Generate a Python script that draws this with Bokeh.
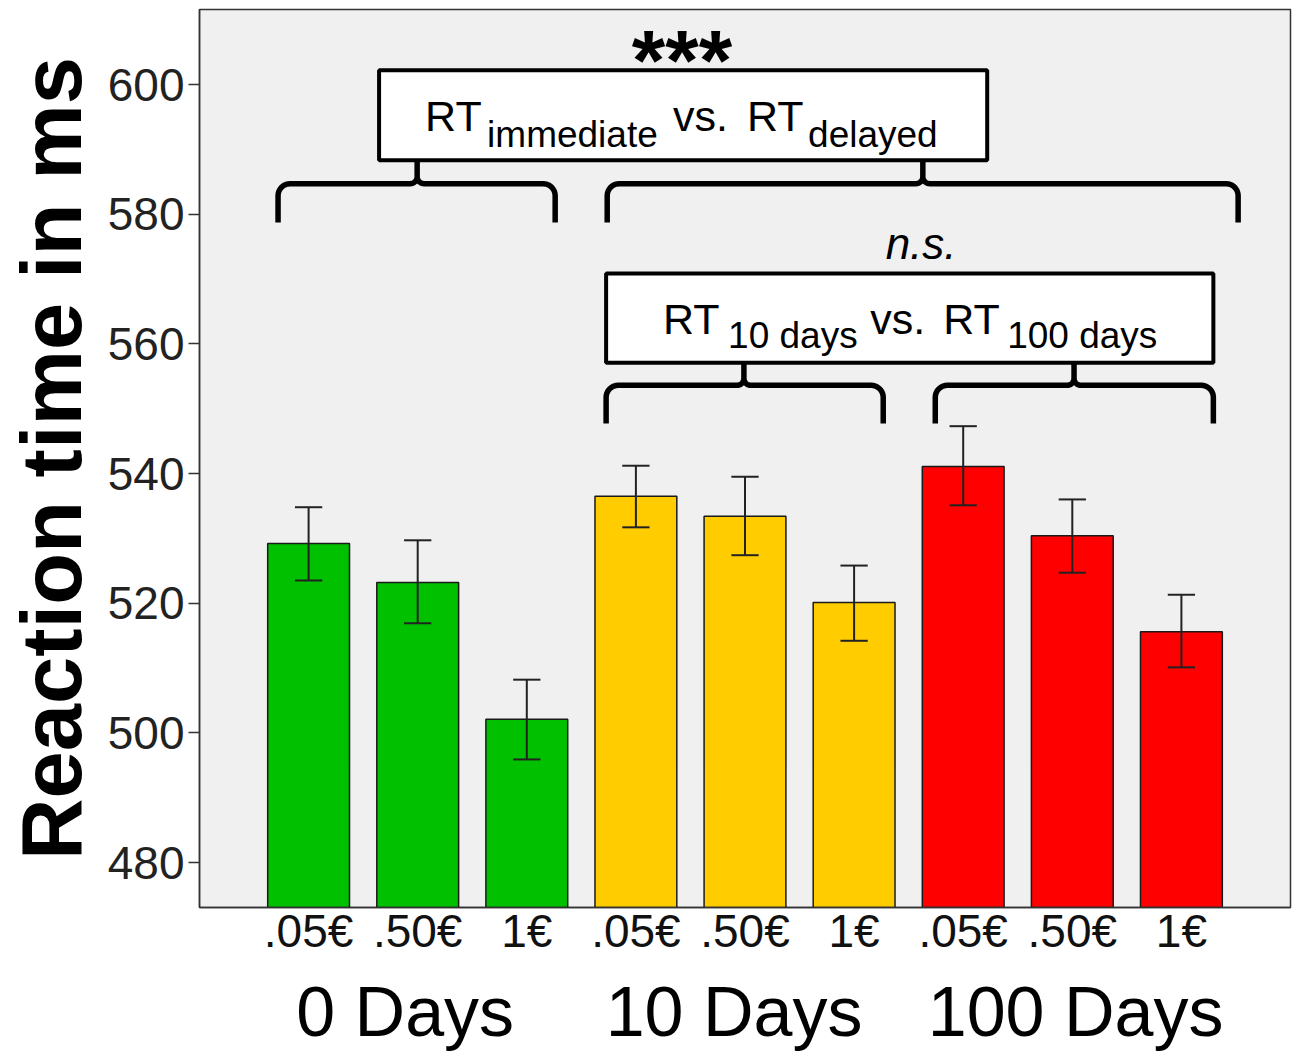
import numpy as np
from bokeh.plotting import figure
from bokeh.models import Range1d, LinearAxis, FixedTicker, ColumnDataSource
from bokeh.embed import file_html
from bokeh.resources import INLINE
from bokeh.core.properties import value

# ---------------- data ----------------
groups = ["0 Days", "10 Days", "100 Days"]
amounts = [".05€", ".50€", "1€"]
group_colors = ["#00C000", "#FFCC00", "#FF0000"]
means = [529.2, 523.2, 502.1, 536.5, 533.4, 520.1, 541.1, 530.4, 515.6]
err_upper = [534.8, 529.7, 508.2, 541.2, 539.5, 525.8, 547.3, 536.0, 521.3]
err_lower = [523.5, 516.9, 495.9, 531.7, 527.4, 514.2, 535.1, 524.7, 510.1]
y_ticks = [480, 500, 520, 540, 560, 580, 600]
y_label = "Reaction time in ms"

FONT = "Liberation Sans"

xs = list(range(len(means)))
colors = [group_colors[i // 3] for i in xs]
bar_w = 0.75
cap_half = 0.125

src = ColumnDataSource(dict(
    x=xs, top=means, color=colors, up=err_upper, lo=err_lower,
    cl=[x - cap_half for x in xs], cr=[x + cap_half for x in xs],
))

p = figure(frame_width=1091, frame_height=898,
           x_range=Range1d(-1.0, 9.0), y_range=Range1d(473.06, 611.57),
           output_backend="svg", toolbar_location=None,
           min_border_left=199, min_border_right=2, min_border_top=9,
           min_border_bottom=0,
           background_fill_color="#F0F0F0", border_fill_color="white",
           outline_line_color="#333333", outline_line_width=1.5)
p.grid.visible = False

# bars
p.vbar(x="x", width=bar_w, top="top", bottom=470, source=src,
       fill_color="color", line_color="#1a1a1a", line_width=1.5)
# error bars
p.segment(x0="x", y0="lo", x1="x", y1="up", source=src, line_color="#222222", line_width=2)
p.segment(x0="cl", y0="up", x1="cr", y1="up", source=src, line_color="#222222", line_width=2)
p.segment(x0="cl", y0="lo", x1="cr", y1="lo", source=src, line_color="#222222", line_width=2)

# ---------------- axes ----------------
px_x = 10.0 / 1091
px_y = (611.57 - 473.06) / 898

xa = p.xaxis[0]
xa.ticker = FixedTicker(ticks=xs)
xa.major_label_overrides = {i: amounts[i % 3] for i in xs}
xa.major_tick_line_color = None
xa.minor_tick_line_color = None
xa.axis_line_color = "#333333"
xa.axis_line_width = 1.5
xa.major_label_text_font = FONT
xa.major_label_text_font_size = "46px"
xa.major_label_text_color = "#111111"
xa.major_label_standoff = -9

group_ticks = [0.885, 3.9, 7.03]
ga = LinearAxis(ticker=FixedTicker(ticks=group_ticks),
                major_label_overrides={t: g for t, g in zip(group_ticks, groups)})
ga.axis_line_color = None
ga.major_tick_line_color = None
ga.minor_tick_line_color = None
ga.major_label_text_font = FONT
ga.major_label_text_font_size = "70px"
ga.major_label_text_color = "#000000"
ga.major_label_standoff = 7
p.add_layout(ga, "below")

ya = p.yaxis[0]
ya.ticker = FixedTicker(ticks=y_ticks)
ya.major_tick_out = 11
ya.major_tick_in = 0
ya.major_tick_line_color = "#333333"
ya.major_tick_line_width = 1.5
ya.minor_tick_line_color = None
ya.axis_line_color = "#333333"
ya.axis_line_width = 1.5
ya.major_label_text_font = FONT
ya.major_label_text_font_size = "46px"
ya.major_label_text_color = "#222222"
ya.major_label_standoff = 4
ya.axis_label = y_label
ya.axis_label_text_font = FONT
ya.axis_label_text_font_size = "85px"
ya.axis_label_text_font_style = "bold"
ya.axis_label_text_color = "#000000"
ya.axis_label_standoff = 6

# ---------------- annotations ----------------
def brace(x0, x1, xc, yt, ye, yc, r=12, c=7):
    rx, ry = r * px_x, r * px_y
    cx, cy = c * px_x, c * px_y
    t = np.linspace(0, np.pi / 2, 10)
    X, Y = [x0], [ye]
    X += list(x0 + rx - rx * np.cos(t)); Y += list(yt - ry + ry * np.sin(t))
    X += list(xc - cx + cx * np.sin(t)); Y += list(yt + cy - cy * np.cos(t))
    X += [xc]; Y += [yc]
    X += [xc]; Y += [yt + cy]
    X += list(xc + cx - cx * np.cos(t)); Y += list(yt + cy - cy * np.sin(t))
    X += list(x1 - rx + rx * np.sin(t)); Y += list(yt - ry + ry * np.cos(t))
    X += [x1]; Y += [ye]
    return X, Y

box_top = dict(l=0.646, r=6.22, t=602.2, b=588.3)
box_low = dict(l=2.727, r=8.293, t=570.85, b=557.1)

braces = [
    (-0.28, 2.26, 0.995, 584.7, 578.7, box_top["b"]),
    (2.737, 8.52, 5.63, 584.7, 578.7, box_top["b"]),
    (2.727, 5.267, 3.99, 553.6, 547.7, box_low["b"]),
    (5.744, 8.293, 7.016, 553.6, 547.7, box_low["b"]),
]
for b in braces:
    bx, by = brace(*b)
    p.line(bx, by, line_color="black", line_width=5.5, line_join="round")

for bx in (box_top, box_low):
    p.quad(left=bx["l"], right=bx["r"], top=bx["t"], bottom=bx["b"],
           fill_color="white", line_color="black", line_width=4)

main_txt = dict(x=[1.068, 3.341, 4.019, 3.249, 5.147, 5.816],
                y=[595.2, 595.2, 595.2, 563.9, 563.9, 563.9],
                t=["RT", "vs.", "RT", "RT", "vs.", "RT"])
sub_txt = dict(x=[1.636, 4.578, 3.845, 6.403],
               y=[592.3, 592.3, 561.3, 561.3],
               t=["immediate", "delayed", "10 days", "100 days"])
p.text(x=main_txt["x"], y=main_txt["y"], text=main_txt["t"],
       text_font=value(FONT), text_font_size="43px", text_color="black",
       text_align="left", text_baseline="alphabetic")
p.text(x=sub_txt["x"], y=sub_txt["y"], text=sub_txt["t"],
       text_font=value(FONT), text_font_size="37px", text_color="black",
       text_align="left", text_baseline="alphabetic")
p.text(x=[3.423], y=[603.8], text=["***"], text_font=value(FONT),
       text_font_size="86px", text_font_style="bold", text_color="black",
       text_align="center", text_baseline="alphabetic")
p.text(x=[5.614], y=[575.5], text=["n.s."], text_font=value(FONT),
       text_font_size="44px", text_font_style="italic", text_color="black",
       text_align="center", text_baseline="alphabetic")

open("out.html", "w").write(file_html(p, INLINE))
